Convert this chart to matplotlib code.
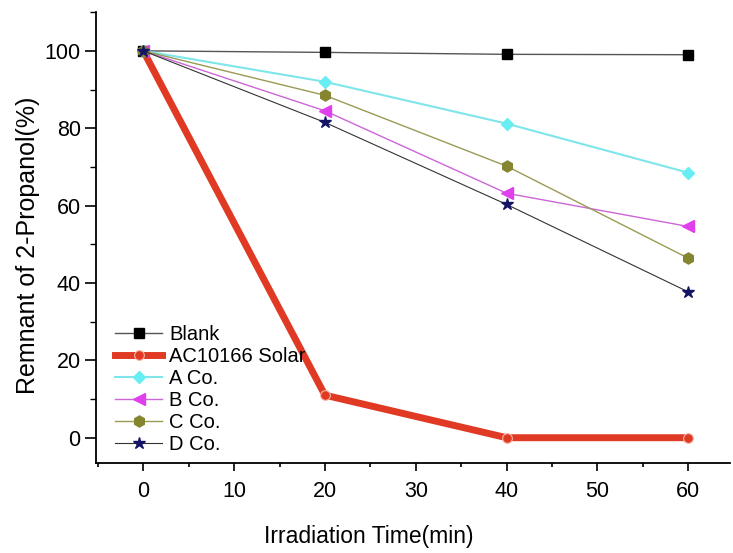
import matplotlib
matplotlib.use("Agg")
import matplotlib.pyplot as plt
from matplotlib.ticker import MultipleLocator

plt.rcParams['font.family'] = ['Liberation Sans', 'DejaVu Sans']

time_min = [0, 20, 40, 60]
blank = [100, 99.6, 99.1, 99.0]
ac10166 = [100, 11.0, 0.0, 0.0]
a_co = [100, 92.0, 81.2, 68.5]
b_co = [100, 84.5, 63.2, 54.6]
c_co = [100, 88.5, 70.2, 46.4]
d_co = [100, 81.5, 60.3, 37.7]

fig = plt.figure(figsize=(7.33, 5.53), dpi=100)
ax = fig.add_axes([0.131, 0.163, 0.865, 0.815])

ax.plot(time_min, blank, color='#555555', lw=1.0, marker='s', ms=6.5,
        mfc='black', mec='black', label='Blank', zorder=3)
ax.plot(time_min, ac10166, color='#e03a24', lw=5.0, marker='o', ms=7,
        mfc='#e03a24', mec='#f7b8a8', mew=0.8, label='AC10166 Solar', zorder=2)
ax.plot(time_min, a_co, color='#7ee6ea', lw=1.5, marker='D', ms=6.5,
        mfc='#66eef2', mec='#66eef2', label='A Co.', zorder=3)
ax.plot(time_min, b_co, color='#cc66d8', lw=1.0, marker='<', ms=8,
        mfc='#e040ec', mec='#e040ec', label='B Co.', zorder=3)
ax.plot(time_min, c_co, color='#9a9a55', lw=1.0, marker='h', ms=8,
        mfc='#858530', mec='#858530', label='C Co.', zorder=3)
ax.plot(time_min, d_co, color='#333333', lw=0.8, marker='*', ms=9,
        mfc='#141466', mec='#141466', label='D Co.', zorder=4)

ax.set_xlim(-5.2, 64.6)
ax.set_ylim(-6.5, 110)
ax.xaxis.set_major_locator(MultipleLocator(10))
ax.xaxis.set_minor_locator(MultipleLocator(5))
ax.yaxis.set_major_locator(MultipleLocator(20))
ax.yaxis.set_minor_locator(MultipleLocator(10))
ax.tick_params(which='major', direction='out', width=1.2, labelsize=15.5)
ax.tick_params(axis='x', which='major', length=6, pad=7)
ax.tick_params(axis='y', which='major', length=8, pad=3)
ax.tick_params(axis='x', which='minor', direction='out', length=3, width=1.2)
ax.tick_params(axis='y', which='minor', direction='out', length=4, width=1.0)
for side in ('top', 'right'):
    ax.spines[side].set_visible(False)
for side in ('left', 'bottom'):
    ax.spines[side].set_linewidth(1.3)

ax.set_xlabel('Irradiation Time(min)', fontsize=16.5)
ax.xaxis.set_label_coords(0.43, -0.138)
ax.set_ylabel('Remnant of 2-Propanol(%)', fontsize=18)
ax.yaxis.set_label_coords(-0.088, 0.483)

ax.legend(loc='upper left', bbox_to_anchor=(0.017, 0.324), frameon=False,
          fontsize=14.5, handlelength=2.35, handletextpad=0.35, labelspacing=0.15,
          borderaxespad=0.0)

fig.savefig('out.png', dpi=100)
